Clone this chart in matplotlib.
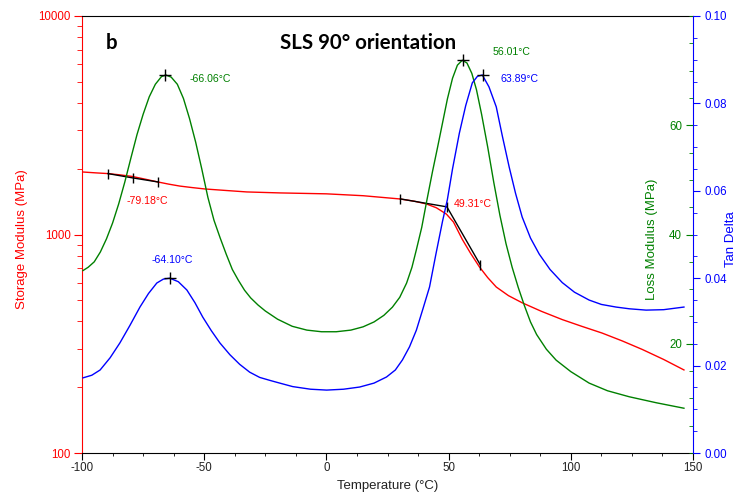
import matplotlib
matplotlib.use("Agg")
import matplotlib.pyplot as plt
from matplotlib.ticker import (FixedLocator, MultipleLocator, FormatStrFormatter,
                               FuncFormatter, NullFormatter)

plt.rcParams['font.family'] = ['Liberation Sans', 'DejaVu Sans']
plt.rcParams['axes.unicode_minus'] = False

RED = '#ff0000'
GREEN = '#008000'
BLUE = '#0000ff'

# storage modulus (MPa), log scale
temp_e = [-99.6, -94.5, -89.4, -84.5, -79.6, -74.5, -69, -64.5, -60, -55, -49.8, -41,
          -32.6, -19.1, 0, 15, 29.9, 36, 40.9, 45, 49.1, 52, 55.6, 59, 62.6, 66, 69.5,
          74.5, 80.1, 88, 96.5, 104.5, 112.8, 121, 129.2, 138, 146.3]
storage = [1932, 1915, 1900, 1875, 1845, 1795, 1740, 1700, 1666, 1640, 1616, 1590,
           1566, 1550, 1535, 1505, 1455, 1420, 1380, 1325, 1240, 1140, 950, 820, 711, 635, 575,
           525, 487, 445, 408, 380, 354, 326, 298, 268, 240]

# loss modulus (MPa)
temp_g = [-99.6, -97.5, -95, -92.5, -90, -87.5, -85, -82.5, -80, -77.5, -75, -72.5,
          -70, -67.5, -65.7, -63.5, -61, -58.5, -56, -53.5, -51, -48.5, -46, -43.5,
          -41, -38.5, -36, -33.5, -31, -28, -25, -20, -14, -8, -2, 4, 10, 15, 19.5, 23.5,
          27, 30, 32.8, 35, 36.8, 39, 40.9, 43.4, 45.5, 47.5, 49.5, 51.6, 53.6, 55.6, 57.5,
          59.5, 61.4, 63.5, 66, 68.5, 71, 73.5, 76, 78.5, 81, 83.5, 86, 90, 94, 100, 107.5,
          115, 123.9, 135, 146.3]
loss = [33.4, 34.0, 35.0, 36.8, 39.2, 42.1, 45.6, 49.6, 54.0, 58.3, 62.0, 65.2,
        67.5, 68.9, 69.2, 68.8, 67.5, 64.9, 61.2, 56.9, 52.0, 46.8, 42.6, 39.4,
        36.4, 33.6, 31.6, 29.8, 28.4, 27.1, 26.0, 24.5, 23.2, 22.5, 22.2, 22.2, 22.5, 23.1, 24.0, 25.2,
        26.7, 28.5, 31.1, 34.0, 37.2, 41.3, 45.8, 51.5, 56.0, 60.4, 64.8, 68.6, 71.0, 71.9, 71.4,
        69.5, 66.5, 62.0, 56.0, 49.5, 43.5, 38.3, 34.0, 30.3, 27.0, 24.0, 21.7, 19.0, 17.0, 14.9, 12.8,
        11.4, 10.3, 9.2, 8.2]

# tan delta
temp_d = [-99.6, -96, -92.6, -88.5, -84.5, -80.4, -76.3, -72.8, -69.4, -66.7, -64.1, -60.6,
          -57.1, -53.8, -50.6, -47.1, -43.6, -39.5, -35.5, -31.4, -27.3, -23, -19.1, -13.8, -6.5,
          0.1, 7, 13.6, 19.5, 24.6, 28.2, 31.1, 34.0, 36.8, 39.5, 42.2, 44.8, 47.5, 49.5,
          51.6, 54.4, 57.0, 59.7, 61.8, 63.8, 66.5, 69.5, 72.0, 74.8, 77.4, 80.1, 83.5,
          87.1, 91.5, 96.5, 101.5, 107.5, 112.5, 118.5, 124, 130.8, 138, 146.3]
tan_delta = [0.0172, 0.0178, 0.0190, 0.0218, 0.0252, 0.0292, 0.0334, 0.0365, 0.0389, 0.0398,
             0.0400, 0.0392, 0.0373, 0.0344, 0.0311, 0.0280, 0.0252, 0.0225, 0.0203, 0.0185,
             0.0173, 0.0166, 0.0160, 0.0152, 0.0146, 0.0144, 0.0146, 0.0151, 0.0160, 0.0174, 0.0190,
             0.0213, 0.0243, 0.0281, 0.0330, 0.0380, 0.0455, 0.0530, 0.0580, 0.0650, 0.0732,
             0.0795, 0.0847, 0.0862, 0.0865, 0.0838, 0.0792, 0.0725, 0.0654, 0.0594, 0.0540,
             0.0492, 0.0455, 0.0420, 0.0390, 0.0368, 0.0350, 0.0340, 0.0334, 0.0330, 0.0327,
             0.0328, 0.0334]

# onset tangents on storage modulus
tan1_t = [-89.4, -79.18, -69]
tan1_e = [1900, 1815, 1740]
tan2_t = [30.3, 49.31, 63.0]
tan2_e = [1455, 1338, 725]

# peaks
g_peak_t = [-66.06, 56.01]
g_peak_v = [69.2, 71.9]
d_peak_t = [-64.10, 63.89]
d_peak_v = [0.0400, 0.0865]

fig = plt.figure(figsize=(7.43, 4.95), dpi=100)
ax = fig.add_axes([0.1104, 0.0848, 0.8223, 0.8829])
ax2 = ax.twinx()
ax3 = ax.twinx()

# storage modulus
ax.plot(temp_e, storage, color=RED, lw=1.0)
ax.plot(tan1_t, tan1_e, color='black', lw=1.0, marker='|', ms=7, mew=1.0)
ax.plot(tan2_t, tan2_e, color='black', lw=1.0, marker='|', ms=7, mew=1.0)
ax.set_yscale('log')
ax.set_xlim(-100, 150)
ax.set_ylim(100, 10000)
ax.yaxis.set_major_formatter(FuncFormatter(lambda v, p: f'{v:g}'))
ax.yaxis.set_minor_formatter(NullFormatter())
ax.xaxis.set_major_locator(MultipleLocator(50))
ax.xaxis.set_minor_locator(MultipleLocator(12.5))
ax.tick_params(axis='y', which='both', direction='out', colors=RED, labelsize=8.3, pad=2.5)
ax.tick_params(axis='y', which='major', length=5.5)
ax.tick_params(axis='y', which='minor', length=3.5)
ax.tick_params(axis='x', which='both', direction='out', labelsize=8.3, pad=1.5,
               labelcolor='#222222')
ax.tick_params(axis='x', which='major', length=5)
ax.tick_params(axis='x', which='minor', length=2.5)
ax.spines['left'].set_color(RED)
ax.spines['right'].set_visible(False)
ax.set_xlabel('Temperature (°C)', fontsize=9.5, color='#222222', labelpad=4)
ax.set_ylabel('Storage Modulus (MPa)', fontsize=9.5, color=RED)
ax.yaxis.set_label_coords(-0.089, 0.49)

ax.annotate('-79.18°C', (tan1_t[1], tan1_e[1]), xytext=(-6, -23),
            textcoords='offset pixels', color=RED, fontsize=7.6, va='center')
ax.annotate('49.31°C', (tan2_t[1], tan2_e[1]), xytext=(7, 3),
            textcoords='offset pixels', color=RED, fontsize=7.6, va='center')

# loss modulus
ax2.plot(temp_g, loss, color=GREEN, lw=1.0)
ax2.plot(g_peak_t, g_peak_v, ls='none', marker='+', ms=9, mew=1.0, color='black')
ax2.set_ylim(0, 80)
ax2.yaxis.tick_left()
ax2.yaxis.set_label_position('left')
ax2.spines['left'].set_position(('axes', 1.0))
for s in ax2.spines.values():
    s.set_visible(False)
ax2.yaxis.set_major_locator(FixedLocator([20, 40, 60]))
ax2.yaxis.set_minor_locator(MultipleLocator(5))
ax2.tick_params(axis='y', which='both', direction='out', colors=GREEN, labelsize=8.3, pad=3)
ax2.tick_params(axis='y', which='major', length=5)
ax2.tick_params(axis='y', which='minor', length=3)
ax2.set_ylabel('Loss Modulus (MPa)', fontsize=9.5, color=GREEN)
ax2.yaxis.set_label_coords(0.943, 0.49)
ax2.annotate('-66.06°C', (g_peak_t[0], g_peak_v[0]), xytext=(25, -4),
             textcoords='offset pixels', color=GREEN, fontsize=7.6, va='center')
ax2.annotate('56.01°C', (g_peak_t[1], g_peak_v[1]), xytext=(29, 8),
             textcoords='offset pixels', color=GREEN, fontsize=7.6, va='center')

# tan delta
ax3.plot(temp_d, tan_delta, color=BLUE, lw=1.0)
ax3.plot(d_peak_t, d_peak_v, ls='none', marker='+', ms=9, mew=1.0, color='black')
ax3.set_ylim(0, 0.10)
ax3.yaxis.set_major_locator(MultipleLocator(0.02))
ax3.yaxis.set_minor_locator(MultipleLocator(0.005))
ax3.yaxis.set_major_formatter(FormatStrFormatter('%.2f'))
ax3.tick_params(axis='y', which='both', direction='out', colors=BLUE, labelsize=8.3, pad=3)
ax3.tick_params(axis='y', which='major', length=5)
ax3.tick_params(axis='y', which='minor', length=3)
for k in ['left', 'top', 'bottom']:
    ax3.spines[k].set_visible(False)
ax3.spines['right'].set_color(BLUE)
ax3.set_ylabel('Tan Delta', fontsize=9.5, color=BLUE)
ax3.yaxis.set_label_coords(1.052, 0.49)
ax3.annotate('-64.10°C', (d_peak_t[0], d_peak_v[0]), xytext=(2, 18),
             textcoords='offset pixels', color=BLUE, fontsize=7.6, va='center', ha='center')
ax3.annotate('63.89°C', (d_peak_t[1], d_peak_v[1]), xytext=(18, -4),
             textcoords='offset pixels', color=BLUE, fontsize=7.6, va='center')

ax.text(0.049, 0.938, 'b', transform=ax.transAxes, fontsize=14.7, fontweight='bold',
        family='Lato', ha='center', va='center')
ax.text(0.468, 0.938, 'SLS 90° orientation', transform=ax.transAxes, fontsize=14.7,
        fontweight='bold', family='Lato', ha='center', va='center')

fig.savefig('out.png', dpi=100)
